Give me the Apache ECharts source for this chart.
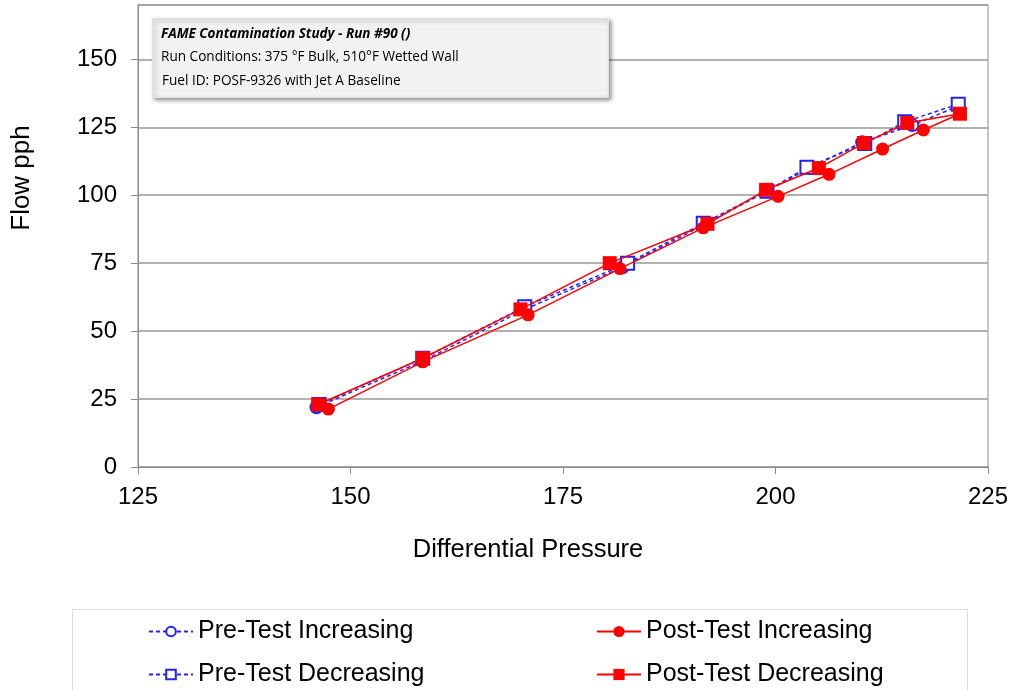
<!DOCTYPE html>
<html>
<head>
<meta charset="utf-8">
<script src="https://cdn.jsdelivr.net/npm/echarts@6/dist/echarts.min.js"></script>
<style>html,body{margin:0;padding:0;background:#fff;}#c{width:1013px;height:690px;}</style>
</head>
<body>
<div id="c"></div>
<script>
var xTicks = [125, 150, 175, 200, 225];
var yTicks = [0, 25, 50, 75, 100, 125, 150];

var preIncX  = [146.0, 158.5, 170.5, 182.0, 191.5, 199.0, 204.0, 210.2, 216.1, 221.5];
var preIncY  = [22.0, 39.0, 58.0, 73.5, 89.0, 101.5, 110.0, 119.5, 125.8, 132.8];
var preDecX  = [221.5, 215.2, 210.5, 203.7, 199.0, 191.5, 182.6, 170.5, 158.5, 146.3];
var preDecY  = [133.5, 127.0, 119.0, 110.3, 101.5, 89.7, 75.0, 59.0, 40.0, 23.0];
var postIncX = [147.4, 158.5, 170.9, 181.7, 191.5, 200.3, 206.3, 212.6, 217.4, 221.7];
var postIncY = [21.3, 38.7, 56.0, 73.0, 88.0, 99.6, 107.7, 117.0, 124.0, 130.0];
var postDecX = [221.7, 215.5, 210.4, 205.1, 198.9, 192.0, 180.5, 170.0, 158.5, 146.2];
var postDecY = [130.0, 126.6, 119.2, 110.0, 102.0, 89.5, 75.0, 58.0, 40.0, 23.0];

var seriesNames = ['Pre-Test Increasing', 'Pre-Test Decreasing', 'Post-Test Increasing', 'Post-Test Decreasing'];
var titleLines = ['FAME Contamination Study - Run #90 ()', 'Run Conditions: 375 °F Bulk, 510°F Wetted Wall', 'Fuel ID: POSF-9326 with Jet A Baseline'];
var xName = 'Differential Pressure';
var yName = 'Flow pph';

function zip(xs, ys) { return xs.map(function (x, i) { return [x, ys[i]]; }); }

var FONT = '"Liberation Sans", Arial, sans-serif';
var BLUE = '#2222ff';
var RED = '#ff0000';

var chart = echarts.init(document.getElementById('c'), null, { renderer: 'canvas' });

var legendText = { fontFamily: FONT, fontSize: 25, color: '#000' };

chart.setOption({
  animation: false,
  backgroundColor: '#fff',
  grid: { left: 138, right: 25, top: 5, bottom: 223, show: true, borderColor: '#8c8c8c', borderWidth: 1 },
  xAxis: {
    type: 'value', min: xTicks[0], max: xTicks[xTicks.length - 1], interval: 25,
    axisLine: { show: true, onZero: false, lineStyle: { color: '#8c8c8c', width: 1 } },
    axisTick: { show: true, inside: false, length: 7, lineStyle: { color: '#8c8c8c' } },
    splitLine: { show: false },
    axisLabel: { fontFamily: FONT, fontSize: 24, color: '#000', margin: 18 }
  },
  yAxis: {
    type: 'value', min: yTicks[0], max: 170, interval: 25,
    axisLine: { show: true, lineStyle: { color: '#8c8c8c', width: 1 } },
    axisTick: { show: true, inside: false, length: 7, lineStyle: { color: '#8c8c8c' } },
    splitLine: { show: true, lineStyle: { color: '#999', width: 1.5 } },
    axisLabel: { fontFamily: FONT, fontSize: 24, color: '#000', margin: 21, showMaxLabel: false,
      formatter: function (v) { return yTicks.indexOf(v) >= 0 ? String(v) : ''; } }
  },
  legend: [
    { data: [seriesNames[0], seriesNames[1]], orient: 'vertical', left: 148, top: 619, itemGap: 18,
      itemWidth: 44, itemHeight: 12, textStyle: legendText, padding: 0 },
    { data: [seriesNames[2], seriesNames[3]], orient: 'vertical', left: 596, top: 619, itemGap: 18,
      itemWidth: 44, itemHeight: 14, textStyle: legendText, padding: 0 }
  ],
  series: [
    { name: seriesNames[0], type: 'line', data: zip(preIncX, preIncY), symbol: 'emptyCircle', symbolSize: 12,
      itemStyle: { color: BLUE, borderColor: BLUE, borderWidth: 1.2 }, lineStyle: { color: BLUE, width: 1.5, type: [4, 3] }, z: 3 },
    { name: seriesNames[1], type: 'line', data: zip(preDecX, preDecY), symbol: 'emptyRect', symbolSize: 13,
      itemStyle: { color: BLUE, borderColor: BLUE, borderWidth: 1.2 }, lineStyle: { color: BLUE, width: 1.5, type: [4, 3] }, z: 3 },
    { name: seriesNames[2], type: 'line', data: zip(postIncX, postIncY), symbol: 'circle', symbolSize: 13,
      itemStyle: { color: RED }, lineStyle: { color: RED, width: 1.5 }, z: 4 },
    { name: seriesNames[3], type: 'line', data: zip(postDecX, postDecY), symbol: 'rect', symbolSize: 14,
      itemStyle: { color: RED }, lineStyle: { color: RED, width: 1.5 }, z: 4 }
  ],
  graphic: [
    { type: 'rect', left: 70, top: 607, shape: { width: 895, height: 100 }, style: { fill: 'none', stroke: '#dcdcdc', lineWidth: 1 }, z: 0 },
    { type: 'rect', left: 152, top: 18, shape: { width: 456, height: 79 },
      style: { fill: '#f2f2f2', stroke: '#e0e0e0', lineWidth: 1, shadowBlur: 4, shadowOffsetX: 2, shadowOffsetY: 2, shadowColor: 'rgba(0,0,0,0.4)' }, z: 10 },
    { type: 'text', left: 161, top: 27, style: { text: titleLines[0], font: 'italic bold 13.5px "Open Sans", sans-serif', fill: '#000' }, z: 11 },
    { type: 'text', left: 161, top: 50, style: { text: titleLines[1], font: '13.6px "Open Sans", sans-serif', fill: '#000' }, z: 11 },
    { type: 'text', left: 162, top: 74, style: { text: titleLines[2], font: '13.6px "Open Sans", sans-serif', fill: '#000' }, z: 11 },
    { type: 'text', x: 528, y: 550, style: { text: xName, font: '25.5px "Liberation Sans", Arial, sans-serif', fill: '#000', align: 'center', verticalAlign: 'middle' }, z: 11 },
    { type: 'text', x: 22, y: 178, rotation: Math.PI / 2, style: { text: yName, font: '26px "Liberation Sans", Arial, sans-serif', fill: '#000', align: 'center', verticalAlign: 'middle' }, z: 11 }
  ]
});
</script>
</body>
</html>
